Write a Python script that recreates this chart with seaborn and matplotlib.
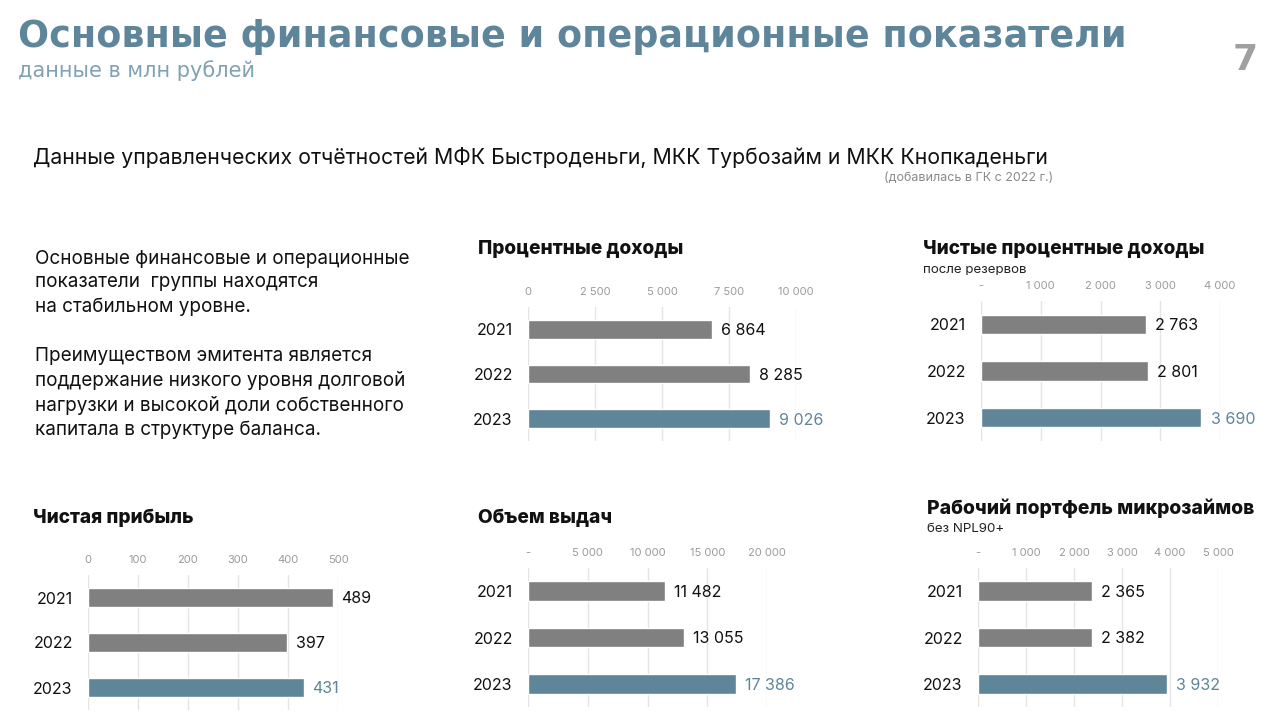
import pandas as pd
import matplotlib.pyplot as plt
import seaborn as sns

# --- data (млн рублей) ---
years = ["2021", "2022", "2023"]
interest_income = [6864, 8285, 9026]
net_interest_income = [2763, 2801, 3690]
net_profit = [489, 397, 431]
loans_issued = [11482, 13055, 17386]
loan_portfolio = [2365, 2382, 3932]

ticks_interest = [0, 2500, 5000, 7500, 10000]
ticks_net_interest = [0, 1000, 2000, 3000, 4000]
ticks_profit = [0, 100, 200, 300, 400, 500]
ticks_issued = [0, 5000, 10000, 15000, 20000]
ticks_portfolio = [0, 1000, 2000, 3000, 4000, 5000]

BLUE = "#5f8599"
GRAY = "#808080"
TITLE_BLUE = "#5e8599"
W, H = 1280, 722

sns.set_theme(style="white")
plt.rcParams["font.family"] = ["Inter", "DejaVu Sans"]

fig = plt.figure(figsize=(W / 100, H / 100), dpi=100)
fig.patch.set_facecolor("white")


def fmt(v):
    return f"{v:,.0f}".replace(",", " ")


def txt(x, y, s, **kw):
    # pixel coords, y measured from top
    fig.text(x / W, 1 - y / H, s, **kw)


def bar_panel(left, right, top, bottom, values, ticks, zero_dash):
    ax = fig.add_axes([left / W, 1 - bottom / H, (right - left) / W, (bottom - top) / H])
    df = pd.DataFrame({"year": years, "value": values})
    palette = {"2021": GRAY, "2022": GRAY, "2023": BLUE}
    sns.barplot(data=df, x="value", y="year", hue="year", palette=palette,
                orient="h", width=0.42, saturation=1, legend=False, ax=ax)
    ax.set_xlim(0, ticks[-1])
    ax.set_ylim(2.5, -0.5)
    ax.set_xticks(ticks)
    labels = [fmt(t) for t in ticks]
    if zero_dash:
        labels[0] = "-"
    ax.set_xticklabels(labels)
    ax.xaxis.tick_top()
    ax.tick_params(axis="x", length=0, pad=7, labelsize=8, labelcolor="#9a9a9a")
    ax.tick_params(axis="y", length=0, pad=11, labelsize=11.5, labelcolor="#111111")
    ax.set_xlabel("")
    ax.set_ylabel("")
    for s in ax.spines.values():
        s.set_visible(False)
    ax.grid(axis="x", color="#e4e4e4", linewidth=1)
    ax.set_axisbelow(True)
    ax.patch.set_alpha(0)
    for i, v in enumerate(values):
        ax.annotate(fmt(v), xy=(v, i), xytext=(6.5, -1), textcoords="offset points",
                    va="center", ha="left", fontsize=11.5,
                    color=BLUE if years[i] == "2023" else "#111111",
                    annotation_clip=False)
    return ax


# header
txt(18, 47, "Основные финансовые и операционные показатели", fontsize=26.3,
    fontweight="bold", color=TITLE_BLUE, family=["DejaVu Sans"])
txt(18, 77, "данные в млн рублей", fontsize=15, color="#7fa2b4", family=["DejaVu Sans"])
txt(1258, 70, "7", fontsize=26, fontweight="bold", color="#a0a0a0", ha="right",
    family=["DejaVu Sans"])

txt(33, 164, "Данные управленческих отчётностей МФК Быстроденьги, МКК Турбозайм и МКК Кнопкаденьги",
    fontsize=15.3, color="#111111")
txt(1053, 181, "(добавилась в ГК с 2022 г.)", fontsize=9, color="#8a8a8a", ha="right")

# left paragraph
txt(35, 250, "Основные финансовые и операционные\nпоказатели  группы находятся\nна стабильном уровне.",
    fontsize=13.6, color="#111111", va="top", linespacing=1.39)
txt(35, 347, "Преимуществом эмитента является\nподдержание низкого уровня долговой\nнагрузки и высокой доли собственного\nкапитала в структуре баланса.",
    fontsize=13.6, color="#111111", va="top", linespacing=1.39)

# panel titles
txt(478, 254, "Процентные доходы", fontsize=13.7, fontweight="heavy", color="#111111")
txt(923, 254, "Чистые процентные доходы", fontsize=13.7, fontweight="heavy", color="#111111")
txt(923, 273, "после резервов", fontsize=9.6, color="#222222")
txt(33, 523, "Чистая прибыль", fontsize=13.7, fontweight="heavy", color="#111111")
txt(478, 523, "Объем выдач", fontsize=13.7, fontweight="heavy", color="#111111")
txt(927, 514, "Рабочий портфель микрозаймов", fontsize=13.9, fontweight="heavy", color="#111111")
txt(927, 532, "без NPL90+", fontsize=9.6, color="#222222")

# panels
bar_panel(528, 796, 307, 441, interest_income, ticks_interest, False)
bar_panel(981, 1220, 301, 441, net_interest_income, ticks_net_interest, True)
bar_panel(88, 338, 575, 710, net_profit, ticks_profit, False)
bar_panel(528, 767, 568, 707, loans_issued, ticks_issued, True)
bar_panel(978, 1218, 568, 707, loan_portfolio, ticks_portfolio, True)

fig.savefig("out.png", dpi=100, facecolor="white")
